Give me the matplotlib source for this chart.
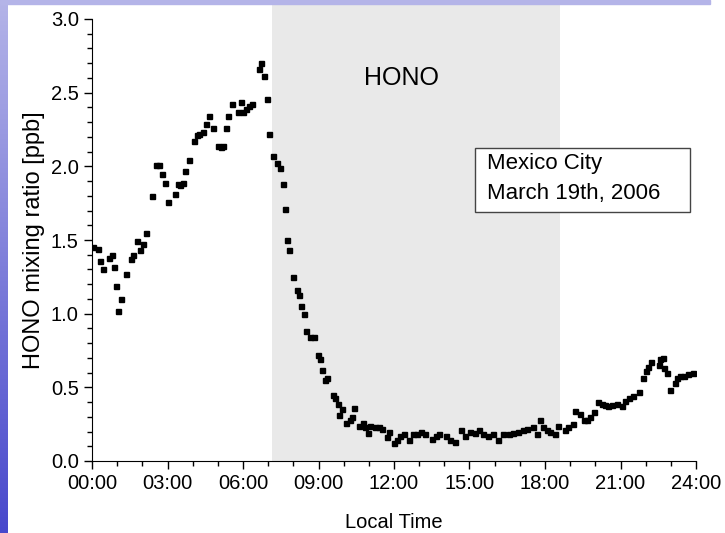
import numpy as np
import matplotlib.pyplot as plt
from matplotlib.ticker import MultipleLocator, FuncFormatter
from matplotlib.patches import Rectangle
from matplotlib.colors import LinearSegmentedColormap

plt.rcParams['font.family'] = ['Liberation Sans', 'DejaVu Sans']

# Local time in hours and HONO mixing ratio [ppb]
hours = [0.05, 0.23, 0.32, 0.45, 0.69, 0.81, 0.87, 0.95, 1.03, 1.15, 1.36, 1.55,
         1.64, 1.78, 1.91, 2.01, 2.15, 2.40, 2.53, 2.66, 2.77, 2.90, 3.01, 3.31,
         3.40, 3.50, 3.60, 3.71, 3.84, 4.05, 4.16, 4.26, 4.40, 4.53, 4.63, 4.82,
         5.01, 5.11, 5.22, 5.32, 5.42, 5.55, 5.79, 5.92, 6.01, 6.12, 6.22, 6.34,
         6.62, 6.73, 6.83, 6.94, 7.05, 7.18, 7.36, 7.47, 7.58, 7.67, 7.75, 7.83,
         7.97, 8.13, 8.22, 8.30, 8.41, 8.50, 8.66, 8.83, 8.97, 9.06, 9.15, 9.26,
         9.35, 9.56, 9.67, 9.76, 9.83, 9.92, 10.09, 10.25, 10.33, 10.42, 10.62,
         10.78, 10.85, 10.97, 11.05, 11.24, 11.41, 11.52, 11.71, 11.81, 12.00,
         12.10, 12.24, 12.40, 12.61, 12.74, 12.90, 13.06, 13.23, 13.50, 13.66,
         13.80, 14.05, 14.22, 14.42, 14.65, 14.82, 15.02, 15.22, 15.39, 15.55,
         15.75, 15.95, 16.15, 16.35, 16.55, 16.74, 16.94, 17.11, 17.30, 17.54,
         17.67, 17.80, 17.93, 18.06, 18.20, 18.40, 18.53, 18.79, 18.93, 19.10,
         19.19, 19.39, 19.55, 19.65, 19.79, 19.94, 20.12, 20.25, 20.38, 20.51,
         20.65, 20.85, 21.04, 21.18, 21.35, 21.51, 21.75, 21.91, 22.01, 22.11,
         22.20, 22.51, 22.57, 22.67, 22.73, 22.86, 22.96, 23.16, 23.25, 23.36,
         23.52, 23.69, 23.89]
hono = [1.45, 1.44, 1.36, 1.30, 1.38, 1.40, 1.32, 1.19, 1.02, 1.10, 1.27, 1.37,
        1.40, 1.49, 1.43, 1.47, 1.55, 1.80, 2.01, 2.01, 1.95, 1.89, 1.76, 1.81,
        1.88, 1.87, 1.89, 1.97, 2.04, 2.17, 2.21, 2.22, 2.23, 2.29, 2.34, 2.26,
        2.14, 2.13, 2.14, 2.26, 2.34, 2.42, 2.37, 2.44, 2.37, 2.39, 2.41, 2.42,
        2.66, 2.70, 2.61, 2.46, 2.22, 2.07, 2.02, 1.99, 1.88, 1.71, 1.50, 1.43,
        1.25, 1.16, 1.13, 1.05, 1.00, 0.88, 0.84, 0.84, 0.72, 0.69, 0.62, 0.55,
        0.56, 0.45, 0.43, 0.39, 0.31, 0.35, 0.26, 0.28, 0.30, 0.36, 0.24,
        0.26, 0.23, 0.19, 0.24, 0.23, 0.23, 0.22, 0.16, 0.20, 0.12,
        0.14, 0.17, 0.18, 0.14, 0.18, 0.18, 0.20, 0.18, 0.15, 0.17,
        0.18, 0.17, 0.14, 0.13, 0.21, 0.17, 0.20, 0.19, 0.21, 0.18,
        0.17, 0.18, 0.14, 0.18, 0.18, 0.19, 0.20, 0.21, 0.22, 0.23,
        0.18, 0.28, 0.23, 0.21, 0.20, 0.18, 0.24, 0.21, 0.23, 0.25,
        0.34, 0.32, 0.28, 0.28, 0.30, 0.33, 0.40, 0.39, 0.38, 0.37,
        0.38, 0.39, 0.37, 0.41, 0.43, 0.44, 0.47, 0.56, 0.61, 0.64,
        0.67, 0.65, 0.69, 0.70, 0.63, 0.60, 0.48, 0.53, 0.56, 0.58,
        0.58, 0.59, 0.60]

# daytime window (shaded)
shade_start = 7.15
shade_end = 18.6

W, H = 725, 533
fig = plt.figure(figsize=(W / 100, H / 100), dpi=100)

# slide background bits: blue gradient strip at the left, lavender strip on top
bg = fig.add_axes([0, 0, 8 / W, 1])
grad = np.linspace(0, 1, 256).reshape(-1, 1)
cmap = LinearSegmentedColormap.from_list('slide', ['#b4b4e8', '#4848cc'])
bg.imshow(grad, aspect='auto', cmap=cmap, extent=[0, 1, 0, 1], origin='upper')
bg.axis('off')
fig.patches.append(Rectangle((0, 1 - 3.5 / H), 710 / W, 3.5 / H,
                             transform=fig.transFigure, color='#b4b4e8', zorder=0))

ax = fig.add_axes([92 / W, 1 - 461 / H, 604 / W, 442 / H])
ax.axvspan(shade_start, shade_end, ymin=0, ymax=(461 - 4) / 442,
           color='#e9e9e9', lw=0, clip_on=False, zorder=0)
ax.plot(hours, hono, 's', color='black', ms=3.6, zorder=3)

ax.set_xlim(0, 24)
ax.set_ylim(0, 3.0)
ax.spines['top'].set_visible(False)
ax.spines['right'].set_visible(False)
ax.patch.set_alpha(0)

ax.xaxis.set_major_locator(MultipleLocator(3))
ax.xaxis.set_minor_locator(MultipleLocator(1))
ax.xaxis.set_major_formatter(FuncFormatter(lambda v, p: f"{int(v):02d}:00"))
ax.yaxis.set_major_locator(MultipleLocator(0.5))
ax.yaxis.set_minor_locator(MultipleLocator(0.1))
ax.yaxis.set_major_formatter(FuncFormatter(lambda v, p: f"{v:.1f}"))
ax.tick_params(which='major', direction='out', length=6, width=1, labelsize=14.5)
ax.tick_params(which='minor', direction='out', length=3.5, width=1)

ax.set_xlabel("Local Time", fontsize=14.5, labelpad=14)
ax.set_ylabel("HONO mixing ratio [ppb]", fontsize=17, labelpad=4)

# annotations, placed in pixel coordinates (origin at top-left of the picture)
def px(x, y):
    return fig.transFigure.inverted().transform((x, H - y))

fig.text(*px(402, 78), "HONO", fontsize=18, ha='center', va='center')
fig.patches.append(Rectangle(px(475, 212), 215 / W, 64 / H, transform=fig.transFigure,
                             fc='white', ec='#444444', lw=1, zorder=2))
fig.text(*px(487, 163), "Mexico City", fontsize=16, ha='left', va='center', zorder=3)
fig.text(*px(487, 194), "March 19th, 2006", fontsize=16, ha='left', va='center', zorder=3)

fig.savefig("out.png", dpi=100)
